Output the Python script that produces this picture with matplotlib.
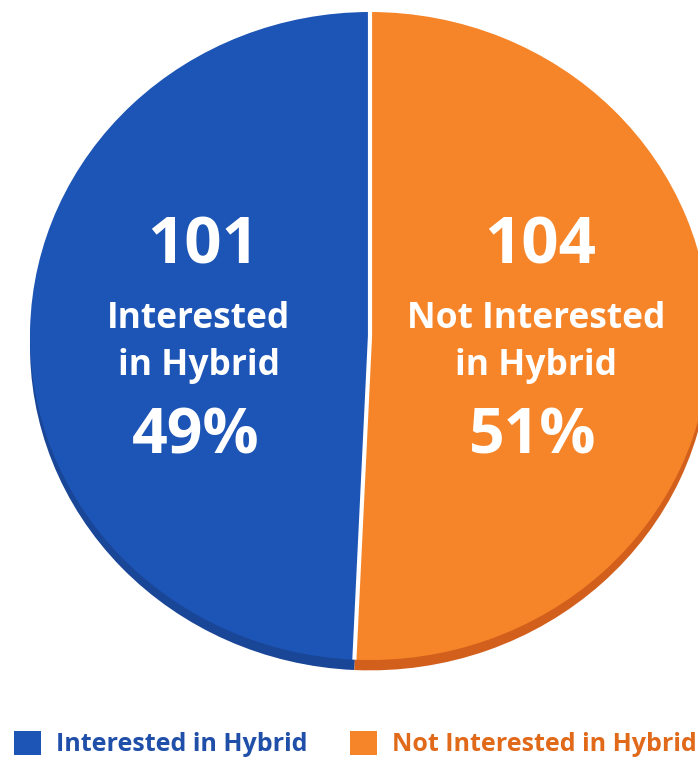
import numpy as np
import matplotlib
matplotlib.use("Agg")
import matplotlib.pyplot as plt

labels = ["Interested in Hybrid", "Not Interested in Hybrid"]
counts = [101, 104]
percents = [49, 51]
inner_lines = [["Interested", "in Hybrid"], ["Not Interested", "in Hybrid"]]

colors = ["#1c55b5", "#f6852a"]
shadow_colors = ["#1a4698", "#d2601c"]
legend_text_colors = ["#1f4fa8", "#e0691a"]

W, H = 698, 758
fig = plt.figure(figsize=(W / 100, H / 100), dpi=100)
ax = fig.add_axes([0, 0, 1, 1])

cx, cy = 370, 336
rx, ry = 340, 324
fam = ["Open Sans", "DejaVu Sans"]

# shadow (depth) layer
ax.pie(counts, colors=shadow_colors, startangle=90, counterclock=True,
       radius=1.0, center=(0, -0.032), frame=True,
       wedgeprops=dict(linewidth=0))
wedges, _ = ax.pie(counts, colors=colors, startangle=90, counterclock=True,
                   radius=1.0, center=(0, 0), frame=True,
                   wedgeprops=dict(linewidth=0))
ax.set_xlim(-cx / rx, (W - cx) / rx)
ax.set_ylim((cy - H) / ry, cy / ry)
ax.set_aspect("auto")
ax.axis("off")

# white dividers along wedge boundaries
total = sum(counts)
ang = 90.0
for c in counts:
    a = np.deg2rad(ang)
    ax.plot([0, np.cos(a)], [0, np.sin(a)], color="white", lw=3,
            solid_capstyle="butt", zorder=5)
    ang += 360.0 * c / total

def to_data(px, py):
    return (px - cx) / rx, (cy - py) / ry

centers_x = [199, 536]
for i in range(2):
    x, y = to_data(centers_x[i] + 4, 247)
    ax.text(x, y, str(counts[i]), color="white", fontsize=47, fontweight="bold",
            family=fam, ha="center", va="center", zorder=6)
    x, y = to_data(centers_x[i], 319)
    ax.text(x, y, inner_lines[i][0], color="white", fontsize=25.5, fontweight="bold",
            family=fam, ha="center", va="center", zorder=6)
    x, y = to_data(centers_x[i], 366)
    ax.text(x, y, inner_lines[i][1], color="white", fontsize=25.5, fontweight="bold",
            family=fam, ha="center", va="center", zorder=6)
    x, y = to_data(centers_x[i] - 3, 437)
    ax.text(x, y, f"{percents[i]}%", color="white", fontsize=45, fontweight="bold",
            family=fam, ha="center", va="center", zorder=6)

leg = fig.legend(wedges, labels, loc="center left", bbox_to_anchor=(14 / W, 1 - 744 / H),
                 ncol=2, frameon=False, prop=dict(family=fam, weight="bold", size=18),
                 handlelength=1.08, handleheight=1.08, handletextpad=0.6,
                 columnspacing=1.7, borderaxespad=0, borderpad=0)
for t, c in zip(leg.get_texts(), legend_text_colors):
    t.set_color(c)

fig.savefig("out.png", dpi=100)
